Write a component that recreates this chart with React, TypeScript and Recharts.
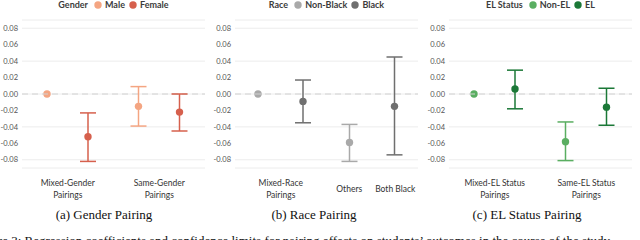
import React from 'react';
import { BarChart, Bar, XAxis, YAxis, CartesianGrid, ErrorBar, ReferenceLine, Legend } from 'recharts';

// ---------- Gender panel ----------
const genderCategories = ['Mixed-Gender Pairings', 'Same-Gender Pairings'];
const genderSeries = ['Male', 'Female'];
const genderMale = [0, -0.015];
const genderMaleLow: (number | null)[] = [null, -0.039];
const genderMaleHigh: (number | null)[] = [null, 0.009];
const genderFemale = [-0.052, -0.022];
const genderFemaleLow: (number | null)[] = [-0.082, -0.045];
const genderFemaleHigh: (number | null)[] = [-0.023, 0.0];
const genderTickLabels = [['Mixed-Gender', 'Pairings'], ['Same-Gender', 'Pairings']];

// ---------- Race panel ----------
const raceCategories = ['Mixed-Race Pairings', 'Same-Race Pairings'];
const raceSeries = ['Non-Black', 'Black'];
const raceNonBlack = [0, -0.059];
const raceNonBlackLow: (number | null)[] = [null, -0.082];
const raceNonBlackHigh: (number | null)[] = [null, -0.037];
const raceBlack = [-0.009, -0.015];
const raceBlackLow: (number | null)[] = [-0.035, -0.074];
const raceBlackHigh: (number | null)[] = [0.017, 0.045];
const raceTickLabels = [['Mixed-Race', 'Pairings'], null];
const raceTickSplit = [null, ['Others', 'Both Black']];

// ---------- EL panel ----------
const elCategories = ['Mixed-EL Status Pairings', 'Same-EL Status Pairings'];
const elSeries = ['Non-EL', 'EL'];
const elNonEL = [0, -0.058];
const elNonELLow: (number | null)[] = [null, -0.081];
const elNonELHigh: (number | null)[] = [null, -0.034];
const elEL = [0.006, -0.016];
const elELLow: (number | null)[] = [-0.018, -0.038];
const elELHigh: (number | null)[] = [0.029, 0.007];
const elTickLabels = [['Mixed-EL Status', 'Pairings'], ['Same-EL Status', 'Pairings']];

const yTicks = [-0.08, -0.06, -0.04, -0.02, 0, 0.02, 0.04, 0.06, 0.08];

const captions = ['(a) Gender Pairing', '(b) Race Pairing', '(c) EL Status Pairing'];
const figureCaption = 'Figure 3: Regression coefficients and confidence limits for pairing effects on students\u2019 outcomes in the course of the study';

const SANS = 'Lato, "Open Sans", sans-serif';
const SERIF = '"Liberation Serif", "DejaVu Serif", serif';

function buildRows(
  cats: string[],
  a: number[], aLow: (number | null)[], aHigh: (number | null)[],
  b: number[], bLow: (number | null)[], bHigh: (number | null)[]
) {
  return cats.map((c, i) => ({
    category: c,
    a: a[i],
    aErr: aLow[i] == null ? null : [a[i] - (aLow[i] as number), (aHigh[i] as number) - a[i]],
    b: b[i],
    bErr: bLow[i] == null ? null : [b[i] - (bLow[i] as number), (bHigh[i] as number) - b[i]],
  }));
}

const genderRows = buildRows(genderCategories, genderMale, genderMaleLow, genderMaleHigh, genderFemale, genderFemaleLow, genderFemaleHigh);
const raceRows = buildRows(raceCategories, raceNonBlack, raceNonBlackLow, raceNonBlackHigh, raceBlack, raceBlackLow, raceBlackHigh);
const elRows = buildRows(elCategories, elNonEL, elNonELLow, elNonELHigh, elEL, elELLow, elELHigh);

const DotShape = (props: any) => {
  const { x, y, width, fill } = props;
  if (x == null || y == null) return null;
  return <circle cx={x + width / 2} cy={y} r={3.7} fill={fill} />;
};

const makeLegend = (title: string, order: string[]) => (props: any) => {
  const payload = [...(props.payload || [])].sort(
    (p: any, q: any) => order.indexOf(p.value) - order.indexOf(q.value)
  );
  return (
    <div
      style={{
        display: 'flex',
        justifyContent: 'center',
        alignItems: 'center',
        height: 10,
        paddingBottom: 10,
        fontFamily: SANS,
        fontSize: 9,
        fontWeight: 700,
        color: '#3c3c3c',
        lineHeight: '10px',
        whiteSpace: 'nowrap',
      }}
    >
      <span style={{ marginRight: 6 }}>{title}</span>
      {payload.map((p: any, i: number) => (
        <span key={i} style={{ display: 'flex', alignItems: 'center', marginRight: i < payload.length - 1 ? 4 : 0 }}>
          <svg width={8} height={8} style={{ marginRight: 3 }}>
            <circle cx={4} cy={4} r={3.7} fill={p.color} />
          </svg>
          {p.value}
        </span>
      ))}
    </div>
  );
};

const makeTick = (labels: (string[] | null)[], splits: (string[] | null)[], splitOffset: number) => (props: any) => {
  const { x, y, payload } = props;
  const idx = payload && payload.index != null ? payload.index : props.index;
  const lines = labels[idx];
  const split = splits[idx];
  const style = { fontFamily: SANS, fontSize: 8.5, fill: '#333' };
  if (split) {
    return (
      <g>
        <text x={x - splitOffset} y={y + 16} textAnchor="middle" {...style}>{split[0]}</text>
        <text x={x + splitOffset} y={y + 16} textAnchor="middle" {...style}>{split[1]}</text>
      </g>
    );
  }
  return (
    <g>
      {(lines || []).map((l, i) => (
        <text key={i} x={x} y={y + 10 + i * 12} textAnchor="middle" {...style}>{l}</text>
      ))}
    </g>
  );
};

function Panel(props: {
  rows: any[];
  names: string[];
  colors: string[];
  title: string;
  tick: any;
  barGap: number;
}) {
  const { rows, names, colors, title, tick, barGap } = props;
  return (
    <BarChart
      width={213}
      height={200}
      data={rows}
      margin={{ top: 0, right: 8, bottom: 2, left: 0 }}
      barSize={20}
      barGap={barGap}
    >
      <CartesianGrid vertical={false} stroke="#ececec" strokeWidth={1} />
      <XAxis dataKey="category" axisLine={false} tickLine={false} tick={tick} interval={0} height={30} />
      <YAxis
        domain={[-0.09, 0.09]}
        ticks={yTicks}
        tickFormatter={(v: number) => v.toFixed(2)}
        axisLine={false}
        tickLine={false}
        width={22}
        tickSize={2}
        tickMargin={2}
        tick={{ fontSize: 7.5, fill: '#555', fontFamily: SANS }}
        allowDataOverflow
      />
      <ReferenceLine y={0} stroke="#d2d2d2" strokeDasharray="6 4" strokeWidth={1.2} />
      <Legend
        verticalAlign="top"
        content={makeLegend(title, names)}
        wrapperStyle={{ left: 22, width: 183, top: 0 }}
      />
      <Bar dataKey="a" name={names[0]} fill={colors[0]} shape={<DotShape />} isAnimationActive={false}>
        <ErrorBar dataKey="aErr" width={8} strokeWidth={1.5} stroke={colors[0]} direction="y" />
      </Bar>
      <Bar dataKey="b" name={names[1]} fill={colors[1]} shape={<DotShape />} isAnimationActive={false}>
        <ErrorBar dataKey="bErr" width={8} strokeWidth={1.5} stroke={colors[1]} direction="y" />
      </Bar>
    </BarChart>
  );
}

export default function App() {
  const panelLefts = [0, 213, 427];
  const captionCenters = [104, 314, 527];
  return (
    <div style={{ position: 'absolute', left: 0, top: 0, width: 640, height: 240, overflow: 'hidden', background: '#fff' }}>
      <div style={{ position: 'absolute', left: panelLefts[0], top: 0 }}>
        <Panel
          rows={genderRows}
          names={genderSeries}
          colors={['#f4a582', '#d6604d']}
          title="Gender"
          tick={makeTick(genderTickLabels, [null, null], 0)}
          barGap={21}
        />
      </div>
      <div style={{ position: 'absolute', left: panelLefts[1], top: 0 }}>
        <Panel
          rows={raceRows}
          names={raceSeries}
          colors={['#a9a9a9', '#6f6f6f']}
          title="Race"
          tick={makeTick(raceTickLabels, raceTickSplit, 23)}
          barGap={25}
        />
      </div>
      <div style={{ position: 'absolute', left: panelLefts[2], top: 0 }}>
        <Panel
          rows={elRows}
          names={elSeries}
          colors={['#5aae61', '#1b7837']}
          title="EL Status"
          tick={makeTick(elTickLabels, [null, null], 0)}
          barGap={21}
        />
      </div>
      {captions.map((c, i) => (
        <div
          key={i}
          style={{
            position: 'absolute',
            left: captionCenters[i] - 80,
            width: 160,
            top: 207,
            textAlign: 'center',
            fontFamily: SERIF,
            fontSize: 13,
            lineHeight: '16px',
            color: '#111',
          }}
        >
          {c}
        </div>
      ))}
      <div
        style={{
          position: 'absolute',
          left: -26,
          top: 233,
          whiteSpace: 'nowrap',
          fontFamily: SERIF,
          fontSize: 13,
          lineHeight: '16px',
          color: '#111',
        }}
      >
        {figureCaption}
      </div>
    </div>
  );
}
